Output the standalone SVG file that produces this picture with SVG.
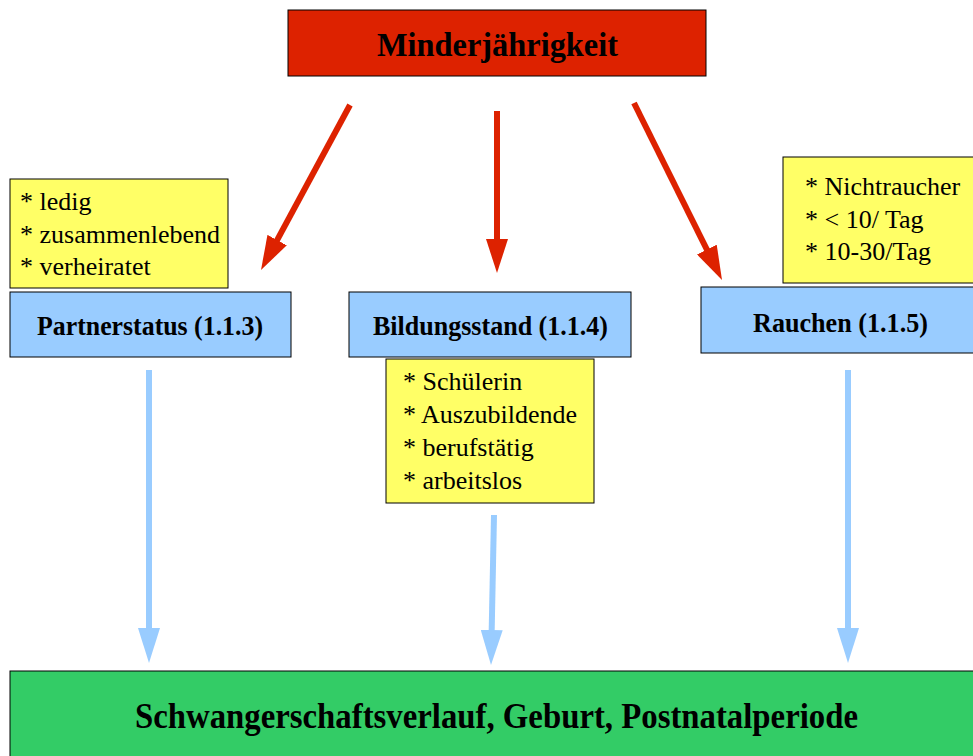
<svg xmlns="http://www.w3.org/2000/svg" width="973" height="756" viewBox="0 0 973 756">
<defs>
<style>
.box{stroke:#000;stroke-width:1}
.red{fill:#DD2200}
.blue{fill:#99CCFF}
.yellow{fill:#FFFF66}
.green{fill:#33CC66}
.lbl{font-family:"Liberation Serif","Times New Roman",serif;font-weight:bold;fill:#000;text-anchor:middle}
.lst{font-family:"Liberation Serif","Times New Roman",serif;font-size:26px;fill:#000}
.ra{stroke:#DD2200;stroke-width:6;fill:none}
.ba{stroke:#99CCFF;stroke-width:6;fill:none}
</style>
<marker id="hr" viewBox="0 0 34 22" refX="14" refY="11" markerWidth="34" markerHeight="22" markerUnits="userSpaceOnUse" orient="auto">
<path d="M0,0 L34,11 L0,22 z" fill="#DD2200"/>
</marker>
<marker id="hb" viewBox="0 0 35 22" refX="15" refY="11" markerWidth="35" markerHeight="22" markerUnits="userSpaceOnUse" orient="auto">
<path d="M0,0 L35,11 L0,22 z" fill="#99CCFF"/>
</marker>
</defs>
<rect width="973" height="756" fill="#fff"/>
<g id="connectors">
<line class="ra" x1="350" y1="105" x2="270.5" y2="252.4" marker-end="url(#hr)"/>
<line class="ra" x1="497" y1="111" x2="497" y2="253" marker-end="url(#hr)"/>
<line class="ra" x1="634" y1="103" x2="713.1" y2="262.1" marker-end="url(#hr)"/>
<line class="ba" x1="149" y1="370" x2="149" y2="643" marker-end="url(#hb)"/>
<line class="ba" x1="494" y1="515" x2="491.4" y2="645" marker-end="url(#hb)"/>
<line class="ba" x1="848" y1="370" x2="848" y2="643" marker-end="url(#hb)"/>
</g>
<g id="minderjaehrigkeit">
<rect class="box red" x="288" y="10" width="418" height="66"/>
<text class="lbl" x="497.5" y="56" font-size="34" textLength="241" lengthAdjust="spacingAndGlyphs">Minderjährigkeit</text>
</g>
<g id="partner-list">
<rect class="box yellow" x="10" y="179" width="218" height="109"/>
<text class="lst" x="20" y="210">* ledig</text>
<text class="lst" x="20" y="243">* zusammenlebend</text>
<text class="lst" x="20" y="275">* verheiratet</text>
</g>
<g id="partnerstatus">
<rect class="box blue" x="10" y="292" width="281" height="65"/>
<text class="lbl" x="150" y="335" font-size="27.5" textLength="226" lengthAdjust="spacingAndGlyphs">Partnerstatus (1.1.3)</text>
</g>
<g id="bildungsstand">
<rect class="box blue" x="349" y="292" width="282" height="65"/>
<text class="lbl" x="490.5" y="335" font-size="27.5" textLength="235" lengthAdjust="spacingAndGlyphs">Bildungsstand (1.1.4)</text>
</g>
<g id="bildung-list">
<rect class="box yellow" x="386" y="359" width="208" height="144"/>
<text class="lst" x="403" y="390">* Schülerin</text>
<text class="lst" x="403" y="423">* Auszubildende</text>
<text class="lst" x="403" y="456">* berufstätig</text>
<text class="lst" x="403" y="489">* arbeitslos</text>
</g>
<g id="rauchen-list">
<rect class="box yellow" x="783" y="157" width="200" height="126"/>
<text class="lst" x="805" y="195">* Nichtraucher</text>
<text class="lst" x="805" y="228">* &lt; 10/ Tag</text>
<text class="lst" x="805" y="260">* 10-30/Tag</text>
</g>
<g id="rauchen">
<rect class="box blue" x="701" y="287" width="282" height="66"/>
<text class="lbl" x="840.5" y="332" font-size="27.5" textLength="175" lengthAdjust="spacingAndGlyphs">Rauchen (1.1.5)</text>
</g>
<g id="schwangerschaft">
<rect class="box green" x="10" y="671" width="973" height="100"/>
<text class="lbl" x="496.5" y="728" font-size="35" textLength="723" lengthAdjust="spacingAndGlyphs">Schwangerschaftsverlauf, Geburt, Postnatalperiode</text>
</g>
</svg>
